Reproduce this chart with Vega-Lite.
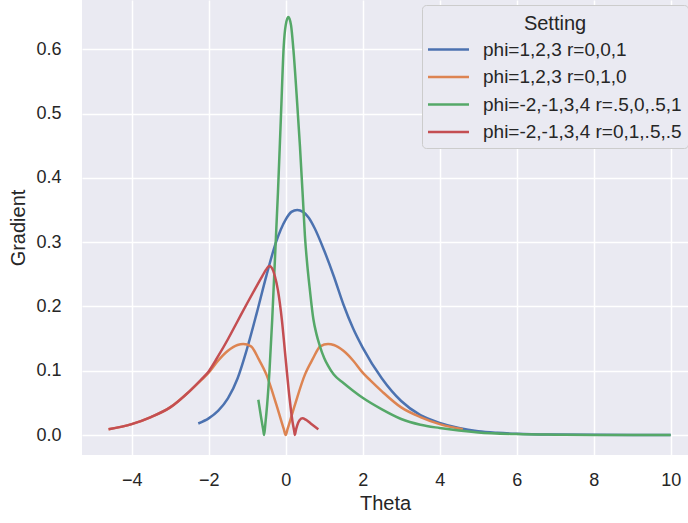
{
  "$schema": "https://vega.github.io/schema/vega-lite/v6.json",
  "width": 606,
  "height": 455,
  "autosize": {"type": "none"},
  "padding": {"left": 82, "top": 0, "right": 0, "bottom": 68},
  "background": "white",
  "config": {
    "view": {"fill": "#EAEAF2", "stroke": null},
    "font": "Liberation Sans",
    "axis": {
      "domain": false, "ticks": false, "grid": true, "gridColor": "white", "gridWidth": 1.5,
      "labelColor": "#262626", "labelFontSize": 18, "labelFont": "Liberation Sans",
      "titleColor": "#262626", "titleFontSize": 20, "titleFontWeight": "normal", "titleFont": "Liberation Sans",
      "labelFlush": false, "labelOverlap": false, "labelBound": false
    }
  },
  "data": {"values": [
    {"s": "phi=1,2,3 r=0,0,1", "x": -2.27, "y": 0.018},
    {"s": "phi=1,2,3 r=0,0,1", "x": -2.0, "y": 0.026},
    {"s": "phi=1,2,3 r=0,0,1", "x": -1.75, "y": 0.038},
    {"s": "phi=1,2,3 r=0,0,1", "x": -1.5, "y": 0.057},
    {"s": "phi=1,2,3 r=0,0,1", "x": -1.25, "y": 0.088},
    {"s": "phi=1,2,3 r=0,0,1", "x": -1.0, "y": 0.135},
    {"s": "phi=1,2,3 r=0,0,1", "x": -0.75, "y": 0.19},
    {"s": "phi=1,2,3 r=0,0,1", "x": -0.5, "y": 0.248},
    {"s": "phi=1,2,3 r=0,0,1", "x": -0.25, "y": 0.3},
    {"s": "phi=1,2,3 r=0,0,1", "x": 0.0, "y": 0.335},
    {"s": "phi=1,2,3 r=0,0,1", "x": 0.15, "y": 0.347},
    {"s": "phi=1,2,3 r=0,0,1", "x": 0.3, "y": 0.35},
    {"s": "phi=1,2,3 r=0,0,1", "x": 0.45, "y": 0.347},
    {"s": "phi=1,2,3 r=0,0,1", "x": 0.6, "y": 0.338},
    {"s": "phi=1,2,3 r=0,0,1", "x": 0.75, "y": 0.322},
    {"s": "phi=1,2,3 r=0,0,1", "x": 1.0, "y": 0.287},
    {"s": "phi=1,2,3 r=0,0,1", "x": 1.25, "y": 0.247},
    {"s": "phi=1,2,3 r=0,0,1", "x": 1.5, "y": 0.203},
    {"s": "phi=1,2,3 r=0,0,1", "x": 1.75, "y": 0.166},
    {"s": "phi=1,2,3 r=0,0,1", "x": 2.0, "y": 0.136},
    {"s": "phi=1,2,3 r=0,0,1", "x": 2.5, "y": 0.088},
    {"s": "phi=1,2,3 r=0,0,1", "x": 3.0, "y": 0.053},
    {"s": "phi=1,2,3 r=0,0,1", "x": 3.5, "y": 0.031},
    {"s": "phi=1,2,3 r=0,0,1", "x": 4.0, "y": 0.019},
    {"s": "phi=1,2,3 r=0,0,1", "x": 4.5, "y": 0.011},
    {"s": "phi=1,2,3 r=0,0,1", "x": 5.0, "y": 0.006},
    {"s": "phi=1,2,3 r=0,0,1", "x": 5.5, "y": 0.0035},
    {"s": "phi=1,2,3 r=0,0,1", "x": 6.0, "y": 0.002},
    {"s": "phi=1,2,3 r=0,0,1", "x": 7.0, "y": 0.0007},
    {"s": "phi=1,2,3 r=0,0,1", "x": 8.0, "y": 0.0003},
    {"s": "phi=1,2,3 r=0,0,1", "x": 9.0, "y": 0.0001},
    {"s": "phi=1,2,3 r=0,0,1", "x": 10.0, "y": 0.0},

    {"s": "phi=1,2,3 r=0,1,0", "x": -4.6, "y": 0.009},
    {"s": "phi=1,2,3 r=0,1,0", "x": -4.0, "y": 0.017},
    {"s": "phi=1,2,3 r=0,1,0", "x": -3.5, "y": 0.028},
    {"s": "phi=1,2,3 r=0,1,0", "x": -3.0, "y": 0.043},
    {"s": "phi=1,2,3 r=0,1,0", "x": -2.5, "y": 0.068},
    {"s": "phi=1,2,3 r=0,1,0", "x": -2.2, "y": 0.085},
    {"s": "phi=1,2,3 r=0,1,0", "x": -2.0, "y": 0.097},
    {"s": "phi=1,2,3 r=0,1,0", "x": -1.75, "y": 0.116},
    {"s": "phi=1,2,3 r=0,1,0", "x": -1.5, "y": 0.131},
    {"s": "phi=1,2,3 r=0,1,0", "x": -1.25, "y": 0.14},
    {"s": "phi=1,2,3 r=0,1,0", "x": -1.1, "y": 0.1415},
    {"s": "phi=1,2,3 r=0,1,0", "x": -0.9, "y": 0.138},
    {"s": "phi=1,2,3 r=0,1,0", "x": -0.7, "y": 0.118},
    {"s": "phi=1,2,3 r=0,1,0", "x": -0.5, "y": 0.094},
    {"s": "phi=1,2,3 r=0,1,0", "x": -0.25, "y": 0.049},
    {"s": "phi=1,2,3 r=0,1,0", "x": -0.05, "y": 0.0095},
    {"s": "phi=1,2,3 r=0,1,0", "x": 0.0, "y": 0.0},
    {"s": "phi=1,2,3 r=0,1,0", "x": 0.05, "y": 0.0095},
    {"s": "phi=1,2,3 r=0,1,0", "x": 0.25, "y": 0.049},
    {"s": "phi=1,2,3 r=0,1,0", "x": 0.5, "y": 0.094},
    {"s": "phi=1,2,3 r=0,1,0", "x": 0.7, "y": 0.118},
    {"s": "phi=1,2,3 r=0,1,0", "x": 0.9, "y": 0.138},
    {"s": "phi=1,2,3 r=0,1,0", "x": 1.1, "y": 0.1415},
    {"s": "phi=1,2,3 r=0,1,0", "x": 1.25, "y": 0.14},
    {"s": "phi=1,2,3 r=0,1,0", "x": 1.5, "y": 0.131},
    {"s": "phi=1,2,3 r=0,1,0", "x": 1.75, "y": 0.116},
    {"s": "phi=1,2,3 r=0,1,0", "x": 2.0, "y": 0.097},
    {"s": "phi=1,2,3 r=0,1,0", "x": 2.2, "y": 0.085},
    {"s": "phi=1,2,3 r=0,1,0", "x": 2.5, "y": 0.068},
    {"s": "phi=1,2,3 r=0,1,0", "x": 3.0, "y": 0.043},
    {"s": "phi=1,2,3 r=0,1,0", "x": 3.5, "y": 0.028},
    {"s": "phi=1,2,3 r=0,1,0", "x": 4.0, "y": 0.017},
    {"s": "phi=1,2,3 r=0,1,0", "x": 4.6, "y": 0.009},

    {"s": "phi=-2,-1,3,4 r=.5,0,.5,1", "x": -0.71, "y": 0.055},
    {"s": "phi=-2,-1,3,4 r=.5,0,.5,1", "x": -0.64, "y": 0.028},
    {"s": "phi=-2,-1,3,4 r=.5,0,.5,1", "x": -0.58, "y": 0.007},
    {"s": "phi=-2,-1,3,4 r=.5,0,.5,1", "x": -0.56, "y": 0.0},
    {"s": "phi=-2,-1,3,4 r=.5,0,.5,1", "x": -0.53, "y": 0.016},
    {"s": "phi=-2,-1,3,4 r=.5,0,.5,1", "x": -0.48, "y": 0.048},
    {"s": "phi=-2,-1,3,4 r=.5,0,.5,1", "x": -0.42, "y": 0.1},
    {"s": "phi=-2,-1,3,4 r=.5,0,.5,1", "x": -0.35, "y": 0.179},
    {"s": "phi=-2,-1,3,4 r=.5,0,.5,1", "x": -0.28, "y": 0.272},
    {"s": "phi=-2,-1,3,4 r=.5,0,.5,1", "x": -0.2, "y": 0.378},
    {"s": "phi=-2,-1,3,4 r=.5,0,.5,1", "x": -0.12, "y": 0.5},
    {"s": "phi=-2,-1,3,4 r=.5,0,.5,1", "x": -0.05, "y": 0.605},
    {"s": "phi=-2,-1,3,4 r=.5,0,.5,1", "x": 0.0, "y": 0.637},
    {"s": "phi=-2,-1,3,4 r=.5,0,.5,1", "x": 0.07, "y": 0.65},
    {"s": "phi=-2,-1,3,4 r=.5,0,.5,1", "x": 0.14, "y": 0.637},
    {"s": "phi=-2,-1,3,4 r=.5,0,.5,1", "x": 0.2, "y": 0.6},
    {"s": "phi=-2,-1,3,4 r=.5,0,.5,1", "x": 0.3, "y": 0.515},
    {"s": "phi=-2,-1,3,4 r=.5,0,.5,1", "x": 0.37, "y": 0.45},
    {"s": "phi=-2,-1,3,4 r=.5,0,.5,1", "x": 0.45, "y": 0.365},
    {"s": "phi=-2,-1,3,4 r=.5,0,.5,1", "x": 0.5, "y": 0.31},
    {"s": "phi=-2,-1,3,4 r=.5,0,.5,1", "x": 0.55, "y": 0.272},
    {"s": "phi=-2,-1,3,4 r=.5,0,.5,1", "x": 0.63, "y": 0.225},
    {"s": "phi=-2,-1,3,4 r=.5,0,.5,1", "x": 0.72, "y": 0.18},
    {"s": "phi=-2,-1,3,4 r=.5,0,.5,1", "x": 0.8, "y": 0.157},
    {"s": "phi=-2,-1,3,4 r=.5,0,.5,1", "x": 0.88, "y": 0.14},
    {"s": "phi=-2,-1,3,4 r=.5,0,.5,1", "x": 1.0, "y": 0.12},
    {"s": "phi=-2,-1,3,4 r=.5,0,.5,1", "x": 1.1, "y": 0.108},
    {"s": "phi=-2,-1,3,4 r=.5,0,.5,1", "x": 1.25, "y": 0.094},
    {"s": "phi=-2,-1,3,4 r=.5,0,.5,1", "x": 1.5, "y": 0.081},
    {"s": "phi=-2,-1,3,4 r=.5,0,.5,1", "x": 1.75, "y": 0.069},
    {"s": "phi=-2,-1,3,4 r=.5,0,.5,1", "x": 2.0, "y": 0.058},
    {"s": "phi=-2,-1,3,4 r=.5,0,.5,1", "x": 2.5, "y": 0.04},
    {"s": "phi=-2,-1,3,4 r=.5,0,.5,1", "x": 3.0, "y": 0.025},
    {"s": "phi=-2,-1,3,4 r=.5,0,.5,1", "x": 3.5, "y": 0.016},
    {"s": "phi=-2,-1,3,4 r=.5,0,.5,1", "x": 4.0, "y": 0.011},
    {"s": "phi=-2,-1,3,4 r=.5,0,.5,1", "x": 4.5, "y": 0.007},
    {"s": "phi=-2,-1,3,4 r=.5,0,.5,1", "x": 5.0, "y": 0.004},
    {"s": "phi=-2,-1,3,4 r=.5,0,.5,1", "x": 6.0, "y": 0.0015},
    {"s": "phi=-2,-1,3,4 r=.5,0,.5,1", "x": 7.0, "y": 0.0006},
    {"s": "phi=-2,-1,3,4 r=.5,0,.5,1", "x": 8.0, "y": 0.0002},
    {"s": "phi=-2,-1,3,4 r=.5,0,.5,1", "x": 10.0, "y": 0.0},

    {"s": "phi=-2,-1,3,4 r=0,1,.5,.5", "x": -4.6, "y": 0.009},
    {"s": "phi=-2,-1,3,4 r=0,1,.5,.5", "x": -4.0, "y": 0.017},
    {"s": "phi=-2,-1,3,4 r=0,1,.5,.5", "x": -3.5, "y": 0.028},
    {"s": "phi=-2,-1,3,4 r=0,1,.5,.5", "x": -3.0, "y": 0.043},
    {"s": "phi=-2,-1,3,4 r=0,1,.5,.5", "x": -2.5, "y": 0.068},
    {"s": "phi=-2,-1,3,4 r=0,1,.5,.5", "x": -2.2, "y": 0.086},
    {"s": "phi=-2,-1,3,4 r=0,1,.5,.5", "x": -2.0, "y": 0.099},
    {"s": "phi=-2,-1,3,4 r=0,1,.5,.5", "x": -1.75, "y": 0.123},
    {"s": "phi=-2,-1,3,4 r=0,1,.5,.5", "x": -1.5, "y": 0.149},
    {"s": "phi=-2,-1,3,4 r=0,1,.5,.5", "x": -1.25, "y": 0.177},
    {"s": "phi=-2,-1,3,4 r=0,1,.5,.5", "x": -1.0, "y": 0.205},
    {"s": "phi=-2,-1,3,4 r=0,1,.5,.5", "x": -0.75, "y": 0.232},
    {"s": "phi=-2,-1,3,4 r=0,1,.5,.5", "x": -0.6, "y": 0.248},
    {"s": "phi=-2,-1,3,4 r=0,1,.5,.5", "x": -0.5, "y": 0.258},
    {"s": "phi=-2,-1,3,4 r=0,1,.5,.5", "x": -0.43, "y": 0.263},
    {"s": "phi=-2,-1,3,4 r=0,1,.5,.5", "x": -0.36, "y": 0.26},
    {"s": "phi=-2,-1,3,4 r=0,1,.5,.5", "x": -0.28, "y": 0.247},
    {"s": "phi=-2,-1,3,4 r=0,1,.5,.5", "x": -0.2, "y": 0.225},
    {"s": "phi=-2,-1,3,4 r=0,1,.5,.5", "x": -0.1, "y": 0.18},
    {"s": "phi=-2,-1,3,4 r=0,1,.5,.5", "x": 0.0, "y": 0.118},
    {"s": "phi=-2,-1,3,4 r=0,1,.5,.5", "x": 0.1, "y": 0.058},
    {"s": "phi=-2,-1,3,4 r=0,1,.5,.5", "x": 0.18, "y": 0.02},
    {"s": "phi=-2,-1,3,4 r=0,1,.5,.5", "x": 0.22, "y": 0.007},
    {"s": "phi=-2,-1,3,4 r=0,1,.5,.5", "x": 0.24, "y": 0.0},
    {"s": "phi=-2,-1,3,4 r=0,1,.5,.5", "x": 0.26, "y": 0.006},
    {"s": "phi=-2,-1,3,4 r=0,1,.5,.5", "x": 0.3, "y": 0.015},
    {"s": "phi=-2,-1,3,4 r=0,1,.5,.5", "x": 0.36, "y": 0.023},
    {"s": "phi=-2,-1,3,4 r=0,1,.5,.5", "x": 0.44, "y": 0.026},
    {"s": "phi=-2,-1,3,4 r=0,1,.5,.5", "x": 0.52, "y": 0.024},
    {"s": "phi=-2,-1,3,4 r=0,1,.5,.5", "x": 0.65, "y": 0.018},
    {"s": "phi=-2,-1,3,4 r=0,1,.5,.5", "x": 0.85, "y": 0.009}
  ]},
  "mark": {"type": "line", "strokeWidth": 2.5, "clip": true, "interpolate": "monotone"},
  "encoding": {
    "x": {
      "field": "x", "type": "quantitative",
      "scale": {"domain": [-5.29, 10.45], "nice": false, "zero": false},
      "axis": {"values": [-4, -2, 0, 2, 4, 6, 8, 10], "title": "Theta", "labelPadding": 16, "titlePadding": 4}
    },
    "y": {
      "field": "y", "type": "quantitative",
      "scale": {"domain": [-0.031, 0.6765], "nice": false, "zero": false},
      "axis": {"values": [0, 0.1, 0.2, 0.3, 0.4, 0.5, 0.6], "format": ".1f", "title": "Gradient", "labelPadding": 21, "titlePadding": 7}
    },
    "color": {
      "field": "s", "type": "nominal",
      "scale": {
        "domain": ["phi=1,2,3 r=0,0,1", "phi=1,2,3 r=0,1,0", "phi=-2,-1,3,4 r=.5,0,.5,1", "phi=-2,-1,3,4 r=0,1,.5,.5"],
        "range": ["#4C72B0", "#DD8452", "#55A868", "#C44E52"]
      },
      "legend": {
        "title": "Setting", "orient": "none", "legendX": 340, "legendY": 5,
        "fillColor": "#EAEAF2", "strokeColor": "#CCCCCC", "cornerRadius": 4, "padding": 6,
        "titleFontSize": 20, "titleFontWeight": "normal", "titleColor": "#262626",
        "titleAnchor": "middle", "titleAlign": "center", "titleBaseline": "line-top", "titleLineHeight": 26, "titlePadding": 7,
        "labelFontSize": 19, "labelColor": "#262626", "labelLimit": 0,
        "symbolType": "M-2,0H2", "symbolSize": 420, "symbolStrokeWidth": 2.5,
        "symbolOffset": 9, "labelOffset": 23, "rowPadding": 5.5
      }
    }
  }
}
